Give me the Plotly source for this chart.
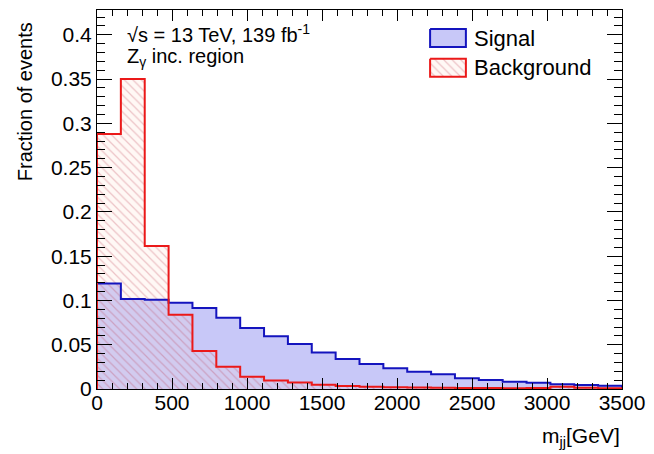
import numpy as np
import plotly.graph_objects as go

# m_jj binning: 22 equal bins from 0 to 3500 GeV
bin_edges = np.linspace(0, 3500, 23)

signal_frac = [0.119, 0.1015, 0.1008, 0.0973, 0.0916, 0.0804, 0.0690, 0.0595,
               0.0507, 0.0413, 0.0338, 0.0282, 0.0233, 0.0195, 0.0167, 0.0121,
               0.0101, 0.0083, 0.0070, 0.0054, 0.0045, 0.0037]
background_frac = [0.288, 0.350, 0.1615, 0.0838, 0.0428, 0.0251, 0.0139, 0.0097,
                   0.0072, 0.0049, 0.0034, 0.0026, 0.0020, 0.0016, 0.0013, 0.0011,
                   0.0010, 0.0009, 0.0012, 0.0025, 0.0015, 0.0008]

legend_labels = ["Signal", "Background"]
energy_text = "√s = 13 TeV, 139 fb<sup>-1</sup>"
region_text = "Z<sub>γ</sub> inc. region"

FONT = "Liberation Sans, Arial, sans-serif"
BLUE_LINE = "rgb(20,20,190)"
BLUE_FILL = "rgb(200,200,248)"
RED_LINE = "rgb(235,25,25)"
HATCH = dict(shape="\\", fgcolor="rgba(185,50,70,0.55)", bgcolor="rgba(255,215,200,0.18)",
             size=6, solidity=0.2)

W, H = 654, 454
L, R, T, B = 97, 29, 9, 65
plot_w, plot_h = W - L - R, H - T - B


def px_to_paper(px, py):
    return (px - L) / plot_w, (H - B - py) / plot_h


centers = 0.5 * (bin_edges[:-1] + bin_edges[1:])
widths = np.diff(bin_edges)


def step_outline(vals):
    xs = [bin_edges[0]] + list(bin_edges) + [bin_edges[-1]]
    ys = [0.0] + list(vals) + [vals[-1], 0.0]
    return xs, ys


fig = go.Figure()

# filled signal histogram
fig.add_trace(go.Bar(x=centers, y=signal_frac, width=widths,
                     marker=dict(color=BLUE_FILL, line=dict(width=0)),
                     hoverinfo="skip"))
# hatched background histogram
fig.add_trace(go.Bar(x=centers, y=background_frac, width=widths,
                     marker=dict(color="rgba(0,0,0,0)", line=dict(width=0),
                                 pattern=HATCH),
                     hoverinfo="skip"))

sx, sy = step_outline(signal_frac)
fig.add_trace(go.Scatter(x=sx, y=sy, mode="lines", line_shape="hv",
                         line=dict(color=BLUE_LINE, width=2), hoverinfo="skip"))
bx, by = step_outline(background_frac)
fig.add_trace(go.Scatter(x=bx, y=by, mode="lines", line_shape="hv",
                         line=dict(color=RED_LINE, width=2), hoverinfo="skip"))

# legend boxes drawn on a pixel-space overlay axis
box_x0, box_x1 = 432, 468
sig_box = (28, 46)
bkg_box = (58, 76)
fig.add_trace(go.Scatter(x=[box_x0, box_x1, box_x1, box_x0, box_x0],
                         y=[sig_box[0], sig_box[0], sig_box[1], sig_box[1], sig_box[0]],
                         xaxis="x2", yaxis="y2", mode="lines", fill="toself",
                         fillcolor=BLUE_FILL, line=dict(color=BLUE_LINE, width=2),
                         hoverinfo="skip"))
fig.add_trace(go.Scatter(x=[box_x0, box_x1, box_x1, box_x0, box_x0],
                         y=[bkg_box[0], bkg_box[0], bkg_box[1], bkg_box[1], bkg_box[0]],
                         xaxis="x2", yaxis="y2", mode="lines", fill="toself",
                         fillcolor="rgba(0,0,0,0)", fillpattern=HATCH,
                         line=dict(color=RED_LINE, width=2), hoverinfo="skip"))

annotations = []


def add_text(text, px, py, size, xanchor="left", yanchor="middle", angle=0):
    ax, ay = px_to_paper(px, py)
    annotations.append(dict(text=text, x=ax, y=ay, xref="paper", yref="paper",
                            xanchor=xanchor, yanchor=yanchor, showarrow=False,
                            textangle=angle, font=dict(family=FONT, size=size, color="black")))


add_text(energy_text, 125, 33, 20)
add_text(region_text, 125, 57, 20)
add_text(legend_labels[0], 474, 38, 22)
add_text(legend_labels[1], 474, 67, 22)
add_text("Fraction of events", 24, 101, 20, xanchor="center", angle=-90)
add_text("m<sub>jj</sub>[GeV]", 625, 437, 21, xanchor="right")

axis_common = dict(showline=True, linecolor="black", linewidth=1, mirror="ticks",
                   ticks="inside", tickcolor="black", tickwidth=1, showgrid=False,
                   zeroline=False, tickfont=dict(family=FONT, size=21, color="black"))

fig.update_layout(
    width=W, height=H, margin=dict(l=L, r=R, t=T, b=B),
    paper_bgcolor="white", plot_bgcolor="white",
    barmode="overlay", bargap=0, showlegend=False,
    annotations=annotations,
    xaxis=dict(range=[0, 3500], dtick=500, tick0=0, ticklen=11, ticklabelstandoff=-5,
               minor=dict(dtick=100, ticklen=6, ticks="inside", tickcolor="black"),
               **axis_common),
    yaxis=dict(range=[0, 0.428], dtick=0.05, tick0=0, ticklen=15,
               minor=dict(dtick=0.01, ticklen=8, ticks="inside", tickcolor="black"),
               **axis_common),
    xaxis2=dict(range=[L, W - R], overlaying="x", visible=False, fixedrange=True),
    yaxis2=dict(range=[H - B, T], overlaying="y", visible=False, fixedrange=True),
)

fig.write_html("out.html")
